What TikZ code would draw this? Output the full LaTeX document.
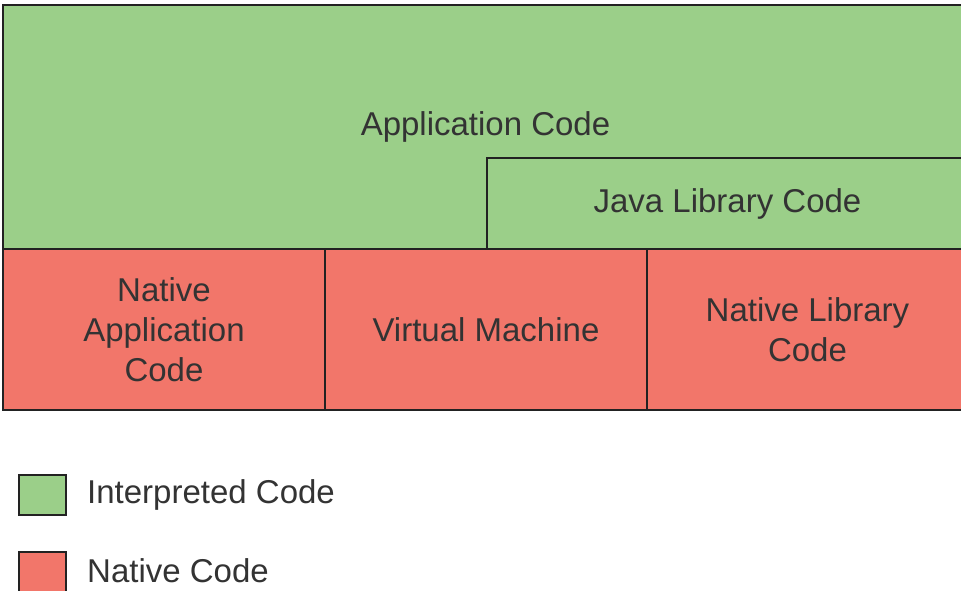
\documentclass[tikz,border=0pt]{standalone}
\usepackage{fontspec}
\setmainfont{Liberation Sans}
\definecolor{interp}{HTML}{9BCF89}
\definecolor{native}{HTML}{F2766A}
\definecolor{txt}{HTML}{333333}
\definecolor{edge}{HTML}{222222}
\begin{document}
\begin{tikzpicture}[x=1pt,y=-1pt,
  blk/.style={draw=edge,line width=2.5pt,inner sep=0pt,text=txt,align=center,
    font=\fontsize{33}{40}\selectfont},
  green/.style={blk,fill=interp},
  red/.style={blk,fill=native},
  legtxt/.style={text=txt,anchor=west,inner sep=0pt,font=\fontsize{33}{40}\selectfont}]
\useasboundingbox (0,0) rectangle (961,590);
\clip (0,0) rectangle (961,590);
\node[green,minimum width=965pt,minimum height=244pt] (app) at (485.5,127) {\raisebox{-2pt}{Application Code}};
\node[green,minimum width=481pt,minimum height=91pt] (java) at (727.5,203.5) {\raisebox{-2pt}{Java Library Code}};
\node[red,minimum width=322pt,minimum height=161pt] (nac) at (164,329.5) {Native\\Application\\Code};
\node[red,minimum width=322pt,minimum height=161pt] (vm) at (486,329.5) {Virtual Machine};
\node[red,minimum width=321pt,minimum height=161pt] (nlc) at (807.5,329.5) {Native Library\\Code};
\node[draw=edge,line width=2pt,fill=interp,minimum width=47pt,minimum height=40pt,inner sep=0pt] (lg) at (42,494.5) {};
\node[legtxt] (lgt) at (87,495) {Interpreted Code};
\node[draw=edge,line width=2pt,fill=native,minimum width=47pt,minimum height=40pt,inner sep=0pt] (lr) at (42,571.5) {};
\node[legtxt] (lrt) at (87,571) {Native Code};
\end{tikzpicture}
\end{document}
